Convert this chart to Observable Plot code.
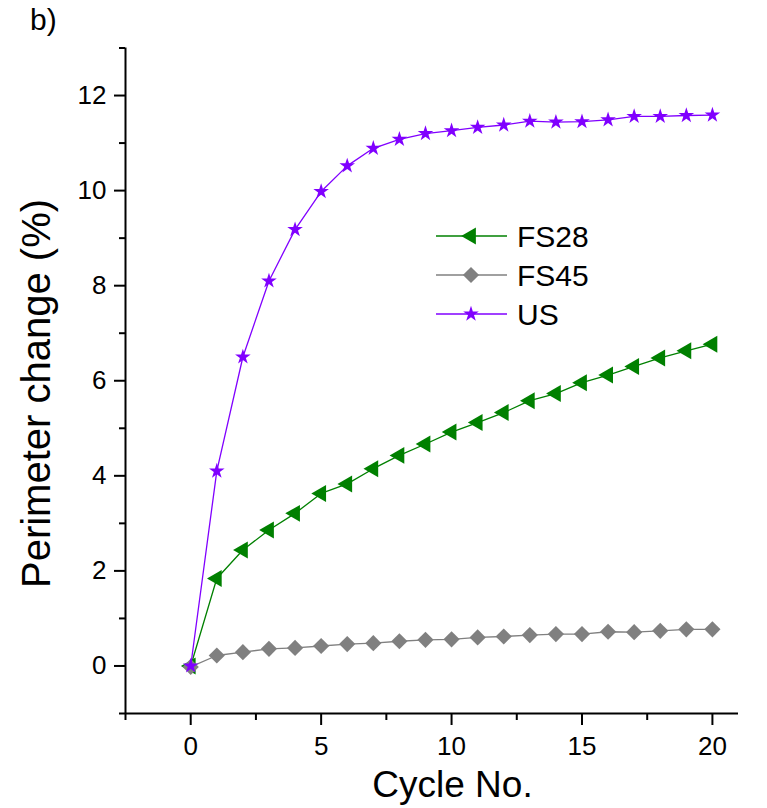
<!DOCTYPE html>
<html>
<head>
<meta charset="utf-8">
<script src="https://cdn.jsdelivr.net/npm/d3@7"></script>
<script src="https://cdn.jsdelivr.net/npm/@observablehq/plot@0.6"></script>
<style>
  html, body { margin: 0; padding: 0; background: white; }
  #chart { position: relative; width: 767px; height: 808px; }
</style>
</head>
<body>
<div id="chart"></div>
<script>
// ---- data ----
const cycles = [0,1,2,3,4,5,6,7,8,9,10,11,12,13,14,15,16,17,18,19,20];
const fs28 = [0, 1.84, 2.44, 2.86, 3.21, 3.63, 3.83, 4.15, 4.43, 4.67, 4.92, 5.12, 5.33, 5.58, 5.73, 5.96, 6.12, 6.30, 6.48, 6.63, 6.77];
const fs45 = [-0.02, 0.22, 0.29, 0.36, 0.38, 0.42, 0.46, 0.48, 0.52, 0.55, 0.56, 0.60, 0.62, 0.65, 0.67, 0.67, 0.72, 0.71, 0.74, 0.77, 0.77];
const us   = [0, 4.10, 6.50, 8.10, 9.18, 9.98, 10.52, 10.89, 11.08, 11.20, 11.26, 11.33, 11.38, 11.46, 11.44, 11.45, 11.49, 11.56, 11.56, 11.58, 11.59];
const seriesNames = ["FS28", "FS45", "US"];
const xMajorTicks = [0, 5, 10, 15, 20];
const xMinorTicks = [-2.5, 2.5, 7.5, 12.5, 17.5];
const yMajorTicks = [0, 2, 4, 6, 8, 10, 12];
const yMinorTicks = [-1, 1, 3, 5, 7, 9, 11, 13];
const xLabel = "Cycle No.";
const yLabel = "Perimeter change (%)";
const panelLabel = "b)";

// ---- styles ----
const seriesStyle = {
  FS28: {values: fs28, color: "#008000", symbol: "triangle", d3symbol: d3.symbolTriangle, r: 6.3, rotate: -90},
  FS45: {values: fs45, color: "#808080", symbol: "diamond2", d3symbol: d3.symbolDiamond2, r: 7.3, rotate: 0},
  US:   {values: us,   color: "#8000ff", symbol: "star",     d3symbol: d3.symbolStar,     r: 4.9, rotate: 0}
};

const marks = [];
for (const name of seriesNames) {
  const s = seriesStyle[name];
  const data = cycles.map((c, i) => ({cycle: c, value: s.values[i]}));
  marks.push(Plot.line(data, {x: "cycle", y: "value", stroke: s.color, strokeWidth: 1.3}));
  marks.push(Plot.dot(data, {x: "cycle", y: "value", symbol: s.symbol, r: s.r, fill: s.color, stroke: "none", rotate: s.rotate}));
}

const font = "'Liberation Sans', Arial, Helvetica, sans-serif";

const chart = Plot.plot({
  width: 767,
  height: 808,
  marginLeft: 125,
  marginRight: 29,
  marginTop: 47.5,
  marginBottom: 95,
  x: {domain: [-2.5, 21], label: null},
  y: {domain: [-1, 13], label: null},
  style: {fontFamily: font, fontSize: "26px", color: "black", background: "white", overflow: "visible"},
  marks: [
    Plot.axisX({ticks: xMajorTicks, tickSize: 12, tickPadding: 11, fontSize: 26, strokeWidth: 2, label: null}),
    Plot.axisX({ticks: xMinorTicks, tickSize: 7, tickFormat: () => "", strokeWidth: 2, label: null}),
    Plot.axisY({ticks: yMajorTicks, tickSize: 11, tickPadding: 8, fontSize: 26, strokeWidth: 2, label: null}),
    Plot.axisY({ticks: yMinorTicks, tickSize: 6, tickFormat: () => "", strokeWidth: 2, label: null}),
    Plot.ruleY([-1], {strokeWidth: 2}),
    Plot.ruleX([-2.5], {strokeWidth: 2}),
    ...marks,
    Plot.text([xLabel], {frameAnchor: "bottom", textAnchor: "middle", lineAnchor: "middle", dx: 20.5, dy: 71.2, fontSize: 37}),
    Plot.text([yLabel], {frameAnchor: "left", textAnchor: "middle", lineAnchor: "middle", rotate: -90, dx: -88, dy: 12.75, fontSize: 40})
  ]
});

document.getElementById("chart").appendChild(chart);

const svg = d3.select(chart);
// force the tick-label size on the axis text groups
svg.selectAll("g[aria-label*='tick label'], g[aria-label*='tick label'] text")
  .style("font-size", "26px");

// ---- legend and panel label ----
const lg = svg.append("g").attr("font-family", font).attr("text-anchor", "start");
seriesNames.forEach((name, i) => {
  const s = seriesStyle[name];
  const y = 236 + i * 39;
  lg.append("line").attr("x1", 436).attr("x2", 507).attr("y1", y).attr("y2", y)
    .attr("stroke", s.color).attr("stroke-width", 1.5);
  lg.append("path").attr("d", d3.symbol(s.d3symbol, Math.PI * s.r * s.r)())
    .attr("transform", `translate(471,${y}) rotate(${s.rotate})`).attr("fill", s.color);
  lg.append("text").attr("x", 517).attr("y", y).attr("dy", "0.35em")
    .attr("text-anchor", "start").attr("font-size", 30).attr("fill", "black").text(name);
});
svg.append("text").attr("x", 30).attr("y", 30).attr("font-size", 30).attr("text-anchor", "start")
  .attr("font-family", font).attr("fill", "black").text(panelLabel);
</script>
</body>
</html>
